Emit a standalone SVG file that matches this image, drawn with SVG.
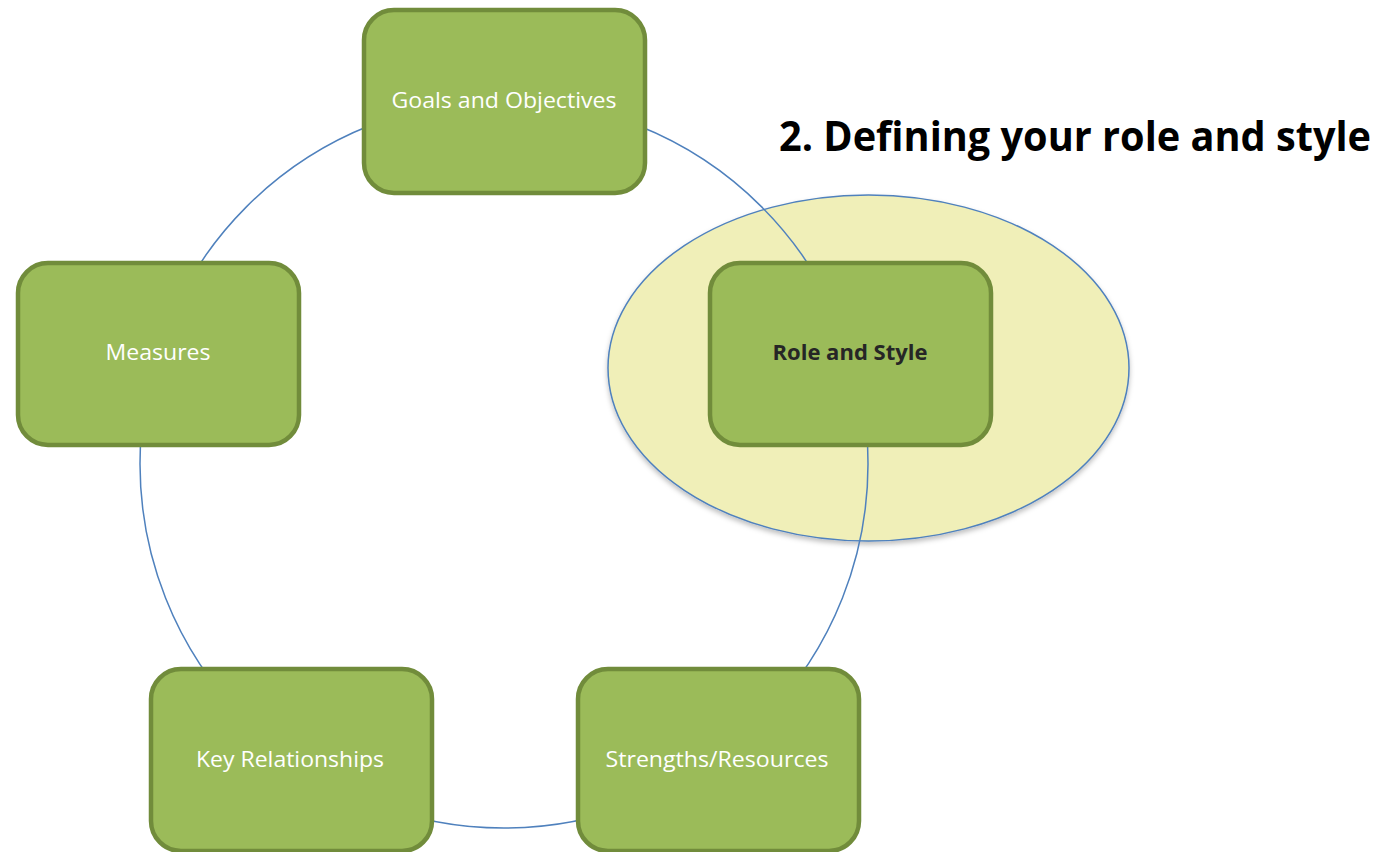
<svg xmlns="http://www.w3.org/2000/svg" width="1393" height="852" viewBox="0 0 1393 852">
  <defs>
    <filter id="softShadow" x="-10%" y="-10%" width="120%" height="125%">
      <feDropShadow dx="0" dy="3" stdDeviation="2.5" flood-color="#000" flood-opacity="0.25"/>
    </filter>
  </defs>
  <style>
    .cycle { fill: none; stroke: #4F81BD; stroke-width: 1.5; }
    .focus { fill: #F0EFB8; stroke: #4F81BD; stroke-width: 1.5; }
    .box { fill: #9BBB59; stroke: #718C3B; stroke-width: 4.5; }
    .label { font-family: "Open Sans", "Liberation Sans", sans-serif; font-size: 22px; fill: #FFFFFF; text-anchor: middle; }
    .label-strong { font-family: "Open Sans", "Liberation Sans", sans-serif; font-size: 22px; font-weight: bold; fill: #262626; text-anchor: middle; }
    .title { font-family: "Open Sans", "Liberation Sans", sans-serif; font-size: 41px; font-weight: bold; fill: #000000; }
  </style>

  <rect width="1393" height="852" fill="#FFFFFF"/>

  <!-- highlighted step -->
  <ellipse id="focus-area" class="focus" cx="868.5" cy="368" rx="260.5" ry="173" filter="url(#softShadow)"/>

  <!-- connectors: the cycle ring behind the steps -->
  <g id="connectors">
    <circle class="cycle" cx="504" cy="464" r="364"/>
  </g>

  <g id="node-goals">
    <rect class="box" x="364" y="10" width="281" height="183" rx="30"/>
    <text class="label" x="504" y="108" textLength="225" lengthAdjust="spacingAndGlyphs">Goals and Objectives</text>
  </g>

  <g id="node-role">
    <rect class="box" x="710" y="263" width="281" height="182" rx="30"/>
    <text class="label-strong" x="850" y="360" textLength="155" lengthAdjust="spacingAndGlyphs">Role and Style</text>
  </g>

  <g id="node-measures">
    <rect class="box" x="18" y="263" width="281" height="182" rx="30"/>
    <text class="label" x="158" y="360" textLength="105" lengthAdjust="spacingAndGlyphs">Measures</text>
  </g>

  <g id="node-relationships">
    <rect class="box" x="151" y="669" width="281" height="182" rx="30"/>
    <text class="label" x="290" y="767" textLength="188" lengthAdjust="spacingAndGlyphs">Key Relationships</text>
  </g>

  <g id="node-strengths">
    <rect class="box" x="578" y="669" width="281" height="182" rx="30"/>
    <text class="label" x="717" y="767" textLength="223" lengthAdjust="spacingAndGlyphs">Strengths/Resources</text>
  </g>

  <text class="title" x="779" y="151" textLength="592" lengthAdjust="spacingAndGlyphs">2. Defining your role and style</text>
</svg>
